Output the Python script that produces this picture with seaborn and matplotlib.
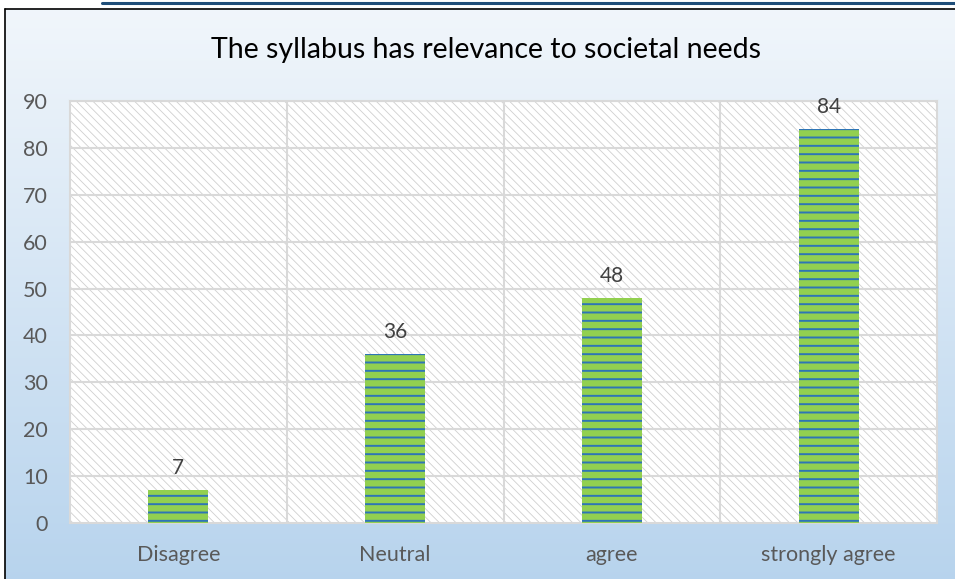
import numpy as np
import pandas as pd
import matplotlib
matplotlib.use("Agg")
import matplotlib.pyplot as plt
from matplotlib.patches import Rectangle
from matplotlib.lines import Line2D
import seaborn as sns

# chart data
categories = ["Disagree", "Neutral", "agree", "strongly agree"]
counts = [7, 36, 48, 84]
y_ticks = [0, 10, 20, 30, 40, 50, 60, 70, 80, 90]
title = "The syllabus has relevance to societal needs"

sns.set_style("white")
plt.rcParams["font.family"] = ["Lato", "DejaVu Sans"]

W, H = 955, 579
fig = plt.figure(figsize=(W / 100, H / 100), dpi=100)

# gradient background (light at top -> light blue at bottom)
bg = fig.add_axes([5 / W, 0, 1 - 5 / W, (H - 9) / H], zorder=-5)
top_c = np.array([0.945, 0.965, 0.985])
bot_c = np.array([0.72, 0.83, 0.93])
t = np.linspace(0, 1, 256)[:, None]
grad = top_c * (1 - t)[..., None] + bot_c * t[..., None]
grad = np.repeat(grad, 2, axis=1)
bg.imshow(grad, aspect="auto", extent=[0, 1, 0, 1])
bg.set_axis_off()

# frame lines at top/left and the dark blue rule
fig.add_artist(Line2D([5 / W, 1], [(H - 9) / H] * 2, color="black", lw=1.2))
fig.add_artist(Line2D([5 / W] * 2, [0, (H - 9) / H], color="black", lw=1.2))
fig.add_artist(Line2D([102 / W, 1], [(H - 2.5) / H] * 2, color="#1f4e79", lw=2.2))

ax = fig.add_axes([70 / W, (H - 523) / H, 867 / W, 422 / H])
ax.set_facecolor("none")

df = pd.DataFrame({"response": categories, "count": counts})
sns.barplot(data=df, x="response", y="count", color="#92d050",
            width=0.277, saturation=1, ax=ax, zorder=3)

for p in ax.patches:
    p.set_facecolor("#92d050")
    p.set_edgecolor("#2e75b6")
    p.set_linewidth(0)
    p.set_hatch("--")
    if hasattr(p, "set_hatch_linewidth"):
        p.set_hatch_linewidth(1.4)

# hatched white plot area
plt.rcParams["hatch.linewidth"] = 0.6
area = Rectangle((0, 0), 1, 1, transform=ax.transAxes, facecolor="white",
                 edgecolor="#d0d0d0", hatch="\\\\\\\\", lw=0, zorder=0)
if hasattr(area, "set_hatch_linewidth"):
    area.set_hatch_linewidth(0.6)
ax.add_patch(area)

ax.set_ylim(0, 90)
ax.set_xlim(-0.5, len(categories) - 0.5)
ax.set_yticks(y_ticks)
for v in y_ticks[1:]:
    ax.axhline(v, color="#d9d9d9", lw=1.5, zorder=1)
for xb in np.arange(0.5, len(categories) - 0.5, 1):
    ax.axvline(xb, color="#d9d9d9", lw=1.5, zorder=1)
for s in ax.spines.values():
    s.set_visible(True)
    s.set_color("#d9d9d9")
    s.set_linewidth(1.5)

ax.tick_params(axis="both", length=0, colors="#595959", labelsize=15.5)
ax.tick_params(axis="y", pad=16)
ax.tick_params(axis="x", pad=16)
ax.set_xlabel("")
ax.set_ylabel("")

for i, v in enumerate(counts):
    ax.text(i, v + 2.6, str(v), ha="center", va="bottom",
            fontsize=15, color="#404040", zorder=4)

fig.text(486 / W, (H - 50) / H, title, ha="center", va="center",
         fontsize=20.5, color="black")

fig.savefig("out.png", dpi=100)
